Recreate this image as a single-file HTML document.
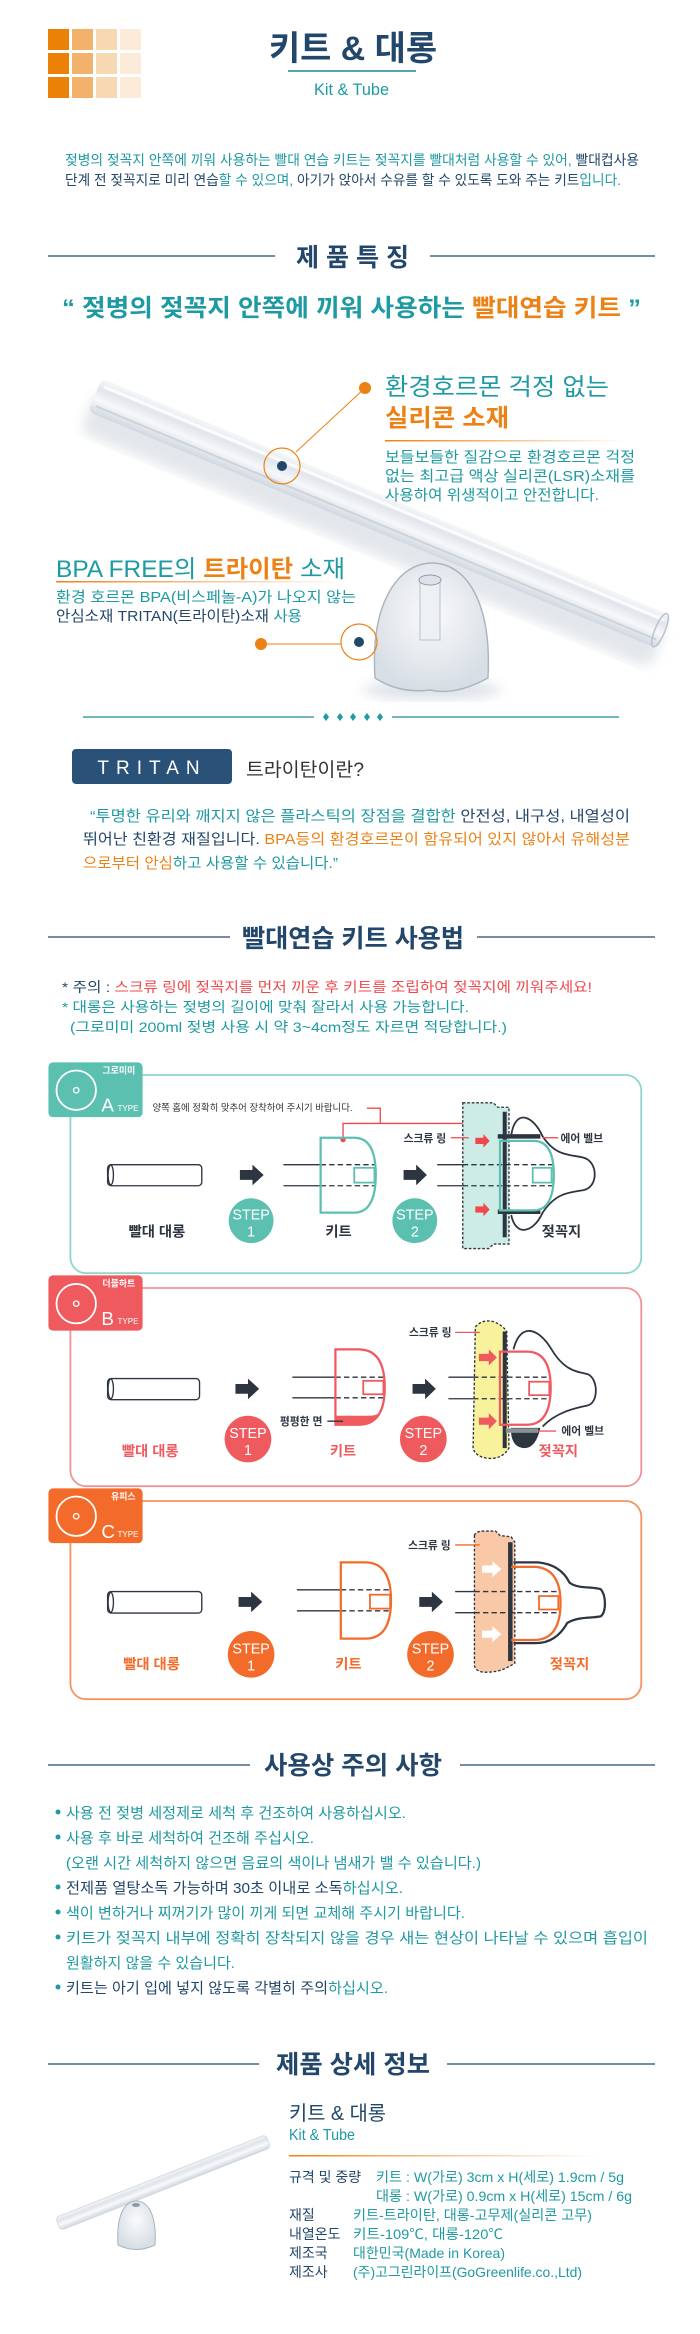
<!DOCTYPE html>
<html><head><meta charset="utf-8"><style>
html,body{margin:0;padding:0;background:#fff;}
svg{display:block;font-family:"Liberation Sans","Noto Sans CJK KR",sans-serif;}
</style></head><body>
<svg width="700" height="2334" viewBox="0 0 700 2334" xmlns="http://www.w3.org/2000/svg">
<defs>
<linearGradient id="og" x1="0" x2="1"><stop offset="0" stop-color="#ec8216"/><stop offset="1" stop-color="#ec8216" stop-opacity="0"/></linearGradient>
<linearGradient id="straw" x1="0" y1="0" x2="0" y2="1"><stop offset="0" stop-color="#f4f6f8"/><stop offset="0.3" stop-color="#dfe4ea"/><stop offset="0.6" stop-color="#f8f9fb"/><stop offset="1" stop-color="#cfd6de"/></linearGradient>
<radialGradient id="cup" cx="0.5" cy="0.4" r="0.6"><stop offset="0" stop-color="#fafbfc"/><stop offset="1" stop-color="#d6dde4"/></radialGradient>
<filter id="blur"><feGaussianBlur stdDeviation="6"/></filter>
</defs>

<!-- header grid -->
<g>
<rect x="48" y="29" width="21" height="21" fill="#ec8108"/><rect x="72" y="29" width="21" height="21" fill="#f2b26b"/><rect x="96" y="29" width="21" height="21" fill="#f8d8b3"/><rect x="120" y="29" width="21" height="21" fill="#fcebd9"/>
<rect x="48" y="53" width="21" height="21" fill="#ec8108"/><rect x="72" y="53" width="21" height="21" fill="#f2b26b"/><rect x="96" y="53" width="21" height="21" fill="#f8d8b3"/><rect x="120" y="53" width="21" height="21" fill="#fcebd9"/>
<rect x="48" y="77" width="21" height="21" fill="#ec8108"/><rect x="72" y="77" width="21" height="21" fill="#f2b26b"/><rect x="96" y="77" width="21" height="21" fill="#f8d8b3"/><rect x="120" y="77" width="21" height="21" fill="#fcebd9"/>
</g>
<text x="269" y="60" font-size="34" font-weight="bold" fill="#23476a" textLength="168" lengthAdjust="spacingAndGlyphs">키트 &amp; 대롱</text>
<line x1="288" y1="71" x2="416" y2="71" stroke="#1e8a9a" stroke-width="1.5"/>
<text x="314" y="95" font-size="17" fill="#1e9aa2" textLength="75" lengthAdjust="spacingAndGlyphs">Kit &amp; Tube</text>

<text x="65" y="165" font-size="14" textLength="574" lengthAdjust="spacingAndGlyphs"><tspan fill="#1e9aa2">젖병의 젖꼭지 안쪽에 끼워 사용하는 빨대 연습 키트는 젖꼭지를 빨대처럼 사용할 수 있어, </tspan><tspan fill="#23476a">빨대컵사용</tspan></text>
<text x="65" y="185" font-size="14" textLength="556" lengthAdjust="spacingAndGlyphs"><tspan fill="#23476a">단계 전 젖꼭지로 미리 연습</tspan><tspan fill="#1e9aa2">할 수 있으며, </tspan><tspan fill="#23476a">아기가 앉아서 수유를 할 수 있도록 도와 주는 키트</tspan><tspan fill="#1e9aa2">입니다.</tspan></text>

<line x1="48" y1="256" x2="275" y2="256" stroke="#23476a" stroke-width="1.2"/>
<line x1="430" y1="256" x2="655" y2="256" stroke="#23476a" stroke-width="1.2"/>
<text x="296" y="266" font-size="25" font-weight="bold" fill="#23476a" textLength="113" lengthAdjust="spacingAndGlyphs">제 품 특 징</text>
<text x="62" y="316" font-size="24" font-weight="bold" textLength="579" lengthAdjust="spacingAndGlyphs"><tspan fill="#1e9aa2">“ 젖병의 젖꼭지 안쪽에 끼워 사용하는 </tspan><tspan fill="#ec8216">빨대연습 키트</tspan><tspan fill="#1e9aa2"> ”</tspan></text>

<!-- straw -->
<g transform="translate(95,395) rotate(22.6)">
<rect x="0" y="-4" width="617" height="44" rx="10" fill="#c8d0d8" opacity="0.5" filter="url(#blur)"/>
<rect x="0" y="-18" width="617" height="36" rx="6" fill="url(#straw)" opacity="0.9"/>
<line x1="5" y1="-11" x2="612" y2="-11" stroke="#ffffff" stroke-width="3" opacity="0.8"/>
<line x1="5" y1="10" x2="612" y2="10" stroke="#c2cbd4" stroke-width="2" opacity="0.7"/>
<ellipse cx="612" cy="0" rx="5" ry="18" fill="none" stroke="#b9c3cd" stroke-width="1.5"/>
</g>

<circle cx="365" cy="388" r="6" fill="#ec8216"/>
<line x1="365" y1="388" x2="296" y2="452" stroke="#ec8216" stroke-width="1"/>
<circle cx="282" cy="466" r="18" fill="none" stroke="#ec8216" stroke-width="1.2"/>
<circle cx="282" cy="466" r="5" fill="#23476a"/>
<text x="385" y="395" font-size="24" fill="#1e9aa2" textLength="224" lengthAdjust="spacingAndGlyphs">환경호르몬 걱정 없는</text>
<text x="385" y="426" font-size="24" font-weight="bold" fill="#ec8216" textLength="124" lengthAdjust="spacingAndGlyphs">실리콘 소재</text>
<rect x="385" y="440" width="243" height="1.5" fill="url(#og)"/>
<text x="385" y="462" font-size="15" fill="#1e9aa2" textLength="250" lengthAdjust="spacingAndGlyphs">보들보들한 질감으로  환경호르몬 걱정</text>
<text x="385" y="481" font-size="15" fill="#1e9aa2" textLength="250" lengthAdjust="spacingAndGlyphs">없는 최고급 액상 실리콘(LSR)소재를</text>
<text x="385" y="500" font-size="15" fill="#1e9aa2" textLength="214" lengthAdjust="spacingAndGlyphs">사용하여 위생적이고 안전합니다.</text>

<!-- cup -->
<ellipse cx="432" cy="690" rx="70" ry="10" fill="#c8d0d8" opacity="0.6" filter="url(#blur)"/>
<path d="M375,678 C370,600 400,563 432,563 C465,563 492,600 488,678 Q455,696 430,690 Q400,694 375,678 Z" fill="url(#cup)" stroke="#a9b3bd" stroke-width="1.5" opacity="0.95"/>
<path d="M420,580 L420,640 L440,640 L440,580 Z" fill="#eef1f4" stroke="#b8c1ca"/>
<ellipse cx="430" cy="580" rx="11" ry="5" fill="#dde3e9" stroke="#8e99a4"/>
<text x="56" y="577" font-size="24" textLength="289" lengthAdjust="spacingAndGlyphs"><tspan fill="#1e9aa2">BPA FREE의 </tspan><tspan fill="#ec8216" font-weight="bold">트라이탄</tspan><tspan fill="#1e9aa2"> 소재</tspan></text>
<rect x="56" y="581" width="289" height="1.5" fill="url(#og)"/>
<text x="56" y="602" font-size="15" fill="#1e9aa2" textLength="300" lengthAdjust="spacingAndGlyphs">환경 호르몬 BPA(비스페놀-A)가 나오지 않는</text>
<text x="56" y="621" font-size="15" textLength="246" lengthAdjust="spacingAndGlyphs"><tspan fill="#23476a">안심소재 TRITAN(트라이탄)소재</tspan><tspan fill="#1e9aa2"> 사용</tspan></text>
<circle cx="261" cy="644" r="6" fill="#ec8216"/>
<line x1="261" y1="644" x2="341" y2="644" stroke="#ec8216" stroke-width="1"/>
<circle cx="359" cy="642" r="18" fill="none" stroke="#ec8216" stroke-width="1.2"/>
<circle cx="359" cy="642" r="5" fill="#23476a"/>

<!-- divider -->
<line x1="83" y1="717" x2="314" y2="717" stroke="#1e8a9a" stroke-width="1.2"/>
<line x1="392" y1="717" x2="619" y2="717" stroke="#1e8a9a" stroke-width="1.2"/>
<g fill="#1e9aa2">
<path d="M326,713 l3,4 l-3,4 l-3,-4z"/><path d="M340,713 l3,4 l-3,4 l-3,-4z"/><path d="M353,713 l3,4 l-3,4 l-3,-4z"/><path d="M367,713 l3,4 l-3,4 l-3,-4z"/><path d="M380,713 l3,4 l-3,4 l-3,-4z"/>
</g>
<rect x="72" y="749" width="160" height="35" rx="4" fill="#2a5279"/>
<text x="152" y="774" font-size="19" fill="#fff" text-anchor="middle" letter-spacing="7">TRITAN</text>
<text x="246" y="776" font-size="19" fill="#333" textLength="118" lengthAdjust="spacingAndGlyphs">트라이탄이란?</text>
<text x="90" y="821" font-size="15" textLength="540" lengthAdjust="spacingAndGlyphs"><tspan fill="#1e9aa2">“투명한 유리와 깨지지 않은 플라스틱의 장점을 결합한 </tspan><tspan fill="#23476a">안전성, 내구성, 내열성이</tspan></text>
<text x="83" y="844" font-size="15" textLength="547" lengthAdjust="spacingAndGlyphs"><tspan fill="#23476a">뛰어난 친환경 재질입니다. </tspan><tspan fill="#ec8216">BPA등의 환경호르몬이 함유되어 있지 않아서 유해성분</tspan></text>
<text x="83" y="868" font-size="15" textLength="255" lengthAdjust="spacingAndGlyphs"><tspan fill="#ec8216">으로부터 안심</tspan><tspan fill="#1e9aa2">하고 사용할 수 있습니다.”</tspan></text>

<line x1="48" y1="937" x2="230" y2="937" stroke="#23476a" stroke-width="1.2"/>
<line x1="477" y1="937" x2="655" y2="937" stroke="#23476a" stroke-width="1.2"/>
<text x="242" y="947" font-size="25" font-weight="bold" fill="#23476a" textLength="222" lengthAdjust="spacingAndGlyphs">빨대연습 키트 사용법</text>
<text x="62" y="992" font-size="14" textLength="530" lengthAdjust="spacingAndGlyphs"><tspan fill="#23476a">* 주의 : </tspan><tspan fill="#ee4a4e">스크류 링에 젖꼭지를 먼저 끼운 후 키트를 조립하여 젖꼭지에 끼워주세요!</tspan></text>
<text x="62" y="1012" font-size="14" fill="#1e9aa2" textLength="407" lengthAdjust="spacingAndGlyphs">* 대롱은 사용하는 젖병의 길이에 맞춰 잘라서 사용 가능합니다.</text>
<text x="70" y="1032" font-size="14" fill="#1e9aa2" textLength="437" lengthAdjust="spacingAndGlyphs">(그로미미 200ml 젖병 사용 시 약 3~4cm정도 자르면 적당합니다.)</text>

<!-- diagrams -->
<svg x="0" y="1040" width="700" height="700" viewBox="0 0 1561 1561">
<g font-family="Liberation Sans, Noto Sans CJK KR, sans-serif">
<!-- A -->
<rect x="157" y="78" width="1273" height="442" rx="35" fill="none" stroke="#8ed6cb" stroke-width="4"/>
<rect x="108" y="50" width="210" height="122" rx="10" fill="#5cc0b1"/>
<circle cx="170" cy="112" r="44" fill="none" stroke="#fff" stroke-width="4"/><circle cx="170" cy="112" r="6" fill="none" stroke="#fff" stroke-width="3"/>
<text x="265" y="75" font-size="20" fill="#fff" text-anchor="middle" font-weight="bold">그로미미</text>
<text x="226" y="160" font-size="42" fill="#fff">A</text><text x="262" y="158" font-size="18" fill="#fff">TYPE</text>
<text x="340" y="158" font-size="21" fill="#333">양쪽 홈에 정확히 맞추어 장착하여 주시기 바랍니다.</text>
<path d="M818,152 L848,152 L848,186 L1110,186 L1110,212 M848,186 L765,186 L765,222" fill="none" stroke="#ee4a4e" stroke-width="3"/>
<circle cx="765" cy="222" r="6" fill="#ee4a4e"/><circle cx="1110" cy="212" r="6" fill="#ee4a4e"/>
<rect x="240" y="278" width="210" height="47" rx="8" fill="none" stroke="#2d3540" stroke-width="3"/>
<ellipse cx="247" cy="301" rx="6" ry="22" fill="none" stroke="#2d3540" stroke-width="3"/>
<path d="M535,290 L563,290 L563,278 L588,301 L563,324 L563,312 L535,312Z" fill="#2d3540"/>
<circle cx="560" cy="403" r="50" fill="#5cc0b1"/><text x="560" y="400" font-size="32" fill="#fff" text-anchor="middle">STEP</text><text x="560" y="438" font-size="32" fill="#fff" text-anchor="middle">1</text>
<path d="M632,278 L715,278 M632,325 L715,325" stroke="#2d3540" stroke-width="3"/>
<path d="M715,278 L838,278 M715,325 L838,325" stroke="#2d3540" stroke-width="3" stroke-dasharray="12,7"/>
<path d="M715,218 L790,218 Q838,218 838,300 Q838,385 790,385 L715,385 Z" fill="none" stroke="#5cc0b1" stroke-width="5"/>
<rect x="790" y="285" width="45" height="33" fill="none" stroke="#5cc0b1" stroke-width="4"/>
<text x="350" y="438" font-size="32" font-weight="bold" fill="#2d3540" text-anchor="middle">빨대 대롱</text>
<text x="755" y="438" font-size="32" font-weight="bold" fill="#2d3540" text-anchor="middle">키트</text>
<path d="M900,290 L928,290 L928,278 L952,301 L928,324 L928,312 L900,312Z" fill="#2d3540"/>
<circle cx="925" cy="403" r="50" fill="#5cc0b1"/><text x="925" y="400" font-size="32" fill="#fff" text-anchor="middle">STEP</text><text x="925" y="438" font-size="32" fill="#fff" text-anchor="middle">2</text>
<path d="M1032,140 L1100,140 L1110,150 L1135,150 L1135,455 L1100,455 L1090,465 L1032,465 Z" fill="#cdece6" stroke="#2d3540" stroke-width="3" stroke-dasharray="6,4"/>
<path d="M975,278 L1032,278 M975,325 L1032,325" stroke="#2d3540" stroke-width="3"/>
<path d="M1032,278 L1235,278 M1032,325 L1235,325" stroke="#2d3540" stroke-width="3" stroke-dasharray="12,7"/>
<rect x="1121" y="160" width="9" height="280" fill="#2d3540"/>
<rect x="1110" y="210" width="95" height="10" fill="#2d3540"/><rect x="1110" y="378" width="95" height="10" fill="#2d3540"/>
<path d="M1140,212 C1150,150 1190,170 1210,215 C1240,260 1270,255 1300,262 C1335,270 1335,330 1300,335 C1270,340 1240,340 1210,385 C1190,430 1150,440 1140,390" fill="none" stroke="#2d3540" stroke-width="4"/>
<path d="M1115,225 L1190,225 Q1235,225 1235,300 Q1235,380 1190,380 L1115,380 Z" fill="none" stroke="#5cc0b1" stroke-width="5"/>
<rect x="1188" y="285" width="42" height="33" fill="none" stroke="#5cc0b1" stroke-width="4"/>
<path d="M1060,218 L1078,218 L1078,210 L1092,225 L1078,240 L1078,232 L1060,232Z" fill="#ee4a4e"/>
<path d="M1060,371 L1078,371 L1078,363 L1092,378 L1078,393 L1078,385 L1060,385Z" fill="#ee4a4e"/>
<text x="900" y="227" font-size="24" font-weight="bold" fill="#2d3540">스크류 링</text><line x1="1005" y1="218" x2="1045" y2="218" stroke="#ee4a4e" stroke-width="3"/>
<line x1="1210" y1="218" x2="1245" y2="218" stroke="#ee4a4e" stroke-width="3"/><text x="1250" y="227" font-size="24" font-weight="bold" fill="#2d3540">에어 벨브</text>
<text x="1252" y="438" font-size="32" font-weight="bold" fill="#2d3540" text-anchor="middle">젖꼭지</text>

<!-- B -->
<rect x="157" y="553" width="1273" height="442" rx="35" fill="none" stroke="#f29396" stroke-width="4"/>
<rect x="108" y="525" width="210" height="123" rx="10" fill="#ef5a5f"/>
<circle cx="170" cy="588" r="44" fill="none" stroke="#fff" stroke-width="4"/><circle cx="170" cy="588" r="6" fill="none" stroke="#fff" stroke-width="3"/>
<text x="265" y="550" font-size="20" fill="#fff" text-anchor="middle" font-weight="bold">더블하트</text>
<text x="226" y="635" font-size="42" fill="#fff">B</text><text x="262" y="633" font-size="18" fill="#fff">TYPE</text>
<rect x="240" y="755" width="205" height="47" rx="8" fill="none" stroke="#2d3540" stroke-width="3"/>
<ellipse cx="247" cy="778" rx="6" ry="22" fill="none" stroke="#2d3540" stroke-width="3"/>
<path d="M525,767 L553,767 L553,755 L578,778 L553,801 L553,789 L525,789Z" fill="#2d3540"/>
<circle cx="553" cy="890" r="52" fill="#ef5a5f"/><text x="553" y="888" font-size="32" fill="#fff" text-anchor="middle">STEP</text><text x="553" y="926" font-size="32" fill="#fff" text-anchor="middle">1</text>
<path d="M652,752 L748,752 M652,798 L748,798" stroke="#2d3540" stroke-width="3"/>
<path d="M748,752 L858,752 M748,798 L858,798" stroke="#2d3540" stroke-width="3" stroke-dasharray="12,7"/>
<path d="M748,838 L820,838 Q840,838 848,830 Q835,858 800,858 L748,858Z" fill="#ef5a5f"/>
<path d="M748,690 L800,690 Q858,690 858,775 Q858,858 800,858 L748,858 Z" fill="none" stroke="#ef5a5f" stroke-width="5"/>
<rect x="810" y="760" width="45" height="30" fill="none" stroke="#ef5a5f" stroke-width="4"/>
<text x="624" y="858" font-size="24" font-weight="bold" fill="#2d3540">평평한 면</text><line x1="730" y1="850" x2="765" y2="850" stroke="#2d3540" stroke-width="3"/>
<text x="335" y="928" font-size="32" font-weight="bold" fill="#ef5a5f" text-anchor="middle">빨대 대롱</text>
<text x="765" y="928" font-size="32" font-weight="bold" fill="#ef5a5f" text-anchor="middle">키트</text>
<path d="M920,767 L948,767 L948,755 L972,778 L948,801 L948,789 L920,789Z" fill="#2d3540"/>
<circle cx="944" cy="890" r="52" fill="#ef5a5f"/><text x="944" y="888" font-size="32" fill="#fff" text-anchor="middle">STEP</text><text x="944" y="926" font-size="32" fill="#fff" text-anchor="middle">2</text>
<path d="M1060,640 Q1075,622 1100,628 Q1120,635 1130,650 L1135,910 Q1120,935 1090,933 Q1060,930 1055,910 Z" fill="#f8f29c" stroke="#2d3540" stroke-width="3" stroke-dasharray="6,4"/>
<path d="M1000,752 L1055,752 M1000,800 L1055,800" stroke="#2d3540" stroke-width="3"/>
<path d="M1055,752 L1228,752 M1055,800 L1228,800" stroke="#2d3540" stroke-width="3" stroke-dasharray="12,7"/>
<rect x="1121" y="650" width="9" height="260" fill="#2d3540"/>
<path d="M1145,690 C1160,630 1200,640 1230,690 C1260,740 1290,740 1310,745 C1335,755 1335,810 1310,815 C1285,820 1240,830 1210,862" fill="none" stroke="#2d3540" stroke-width="4"/>
<path d="M1140,865 L1205,865 Q1195,910 1170,910 Q1145,910 1140,880Z" fill="#2d3540"/>
<rect x="1128" y="866" width="72" height="10" fill="#8a9096"/>
<path d="M1115,695 L1175,695 Q1228,695 1228,775 Q1228,858 1175,858 L1115,858 Z" fill="none" stroke="#ef5a5f" stroke-width="5"/>
<rect x="1180" y="762" width="45" height="30" fill="none" stroke="#ef5a5f" stroke-width="4"/>
<path d="M1068,700 L1090,700 L1090,690 L1108,708 L1090,726 L1090,716 L1068,716Z" fill="#ef5a5f"/>
<path d="M1068,842 L1090,842 L1090,832 L1108,850 L1090,868 L1090,858 L1068,858Z" fill="#ef5a5f"/>
<text x="912" y="660" font-size="24" font-weight="bold" fill="#2d3540">스크류 링</text><line x1="1015" y1="652" x2="1070" y2="652" stroke="#ef5a5f" stroke-width="3"/>
<line x1="1200" y1="872" x2="1240" y2="872" stroke="#ef5a5f" stroke-width="3"/><text x="1252" y="880" font-size="24" font-weight="bold" fill="#2d3540">에어 벨브</text>
<text x="1245" y="928" font-size="32" font-weight="bold" fill="#ef5a5f" text-anchor="middle">젖꼭지</text>

<!-- C -->
<rect x="157" y="1028" width="1273" height="442" rx="35" fill="none" stroke="#f5935e" stroke-width="4"/>
<rect x="108" y="1000" width="210" height="122" rx="10" fill="#f26b2a"/>
<circle cx="170" cy="1062" r="44" fill="none" stroke="#fff" stroke-width="4"/><circle cx="170" cy="1062" r="6" fill="none" stroke="#fff" stroke-width="3"/>
<text x="275" y="1025" font-size="20" fill="#fff" text-anchor="middle" font-weight="bold">유피스</text>
<text x="226" y="1110" font-size="42" fill="#fff">C</text><text x="262" y="1108" font-size="18" fill="#fff">TYPE</text>
<rect x="240" y="1230" width="210" height="48" rx="8" fill="none" stroke="#2d3540" stroke-width="3"/>
<ellipse cx="247" cy="1254" rx="6" ry="22" fill="none" stroke="#2d3540" stroke-width="3"/>
<path d="M532,1242 L560,1242 L560,1230 L585,1253 L560,1276 L560,1264 L532,1264Z" fill="#2d3540"/>
<circle cx="560" cy="1370" r="52" fill="#f26b2a"/><text x="560" y="1368" font-size="32" fill="#fff" text-anchor="middle">STEP</text><text x="560" y="1406" font-size="32" fill="#fff" text-anchor="middle">1</text>
<path d="M662,1226 L760,1226 M662,1273 L760,1273" stroke="#2d3540" stroke-width="3"/>
<path d="M760,1226 L870,1226 M760,1273 L870,1273" stroke="#2d3540" stroke-width="3" stroke-dasharray="12,7"/>
<path d="M760,1165 L815,1165 Q872,1165 872,1250 Q872,1335 815,1335 L760,1335 Z" fill="none" stroke="#f26b2a" stroke-width="5"/>
<rect x="825" y="1237" width="45" height="31" fill="none" stroke="#f26b2a" stroke-width="4"/>
<text x="338" y="1403" font-size="32" font-weight="bold" fill="#f26b2a" text-anchor="middle">빨대 대롱</text>
<text x="777" y="1403" font-size="32" font-weight="bold" fill="#f26b2a" text-anchor="middle">키트</text>
<path d="M935,1242 L963,1242 L963,1230 L988,1253 L963,1276 L963,1264 L935,1264Z" fill="#2d3540"/>
<circle cx="960" cy="1370" r="52" fill="#f26b2a"/><text x="960" y="1368" font-size="32" fill="#fff" text-anchor="middle">STEP</text><text x="960" y="1406" font-size="32" fill="#fff" text-anchor="middle">2</text>
<path d="M1058,1105 Q1060,1095 1080,1095 L1105,1095 L1115,1105 L1140,1108 L1148,1120 L1148,1390 L1130,1400 Q1110,1410 1080,1410 Q1060,1408 1058,1395 Z" fill="#f9c9a7" stroke="#2d3540" stroke-width="3" stroke-dasharray="6,4"/>
<path d="M1015,1230 L1058,1230 M1015,1277 L1058,1277" stroke="#2d3540" stroke-width="3"/>
<path d="M1058,1230 L1245,1230 M1058,1277 L1245,1277" stroke="#2d3540" stroke-width="3" stroke-dasharray="12,7"/>
<rect x="1133" y="1120" width="10" height="265" fill="#2d3540"/>
<path d="M1145,1165 L1200,1165 Q1250,1170 1270,1210 C1290,1225 1320,1218 1340,1225 C1352,1240 1352,1275 1340,1285 C1320,1290 1290,1285 1265,1300 Q1240,1345 1195,1345 L1145,1345" fill="none" stroke="#2d3540" stroke-width="5"/>
<path d="M1140,1175 L1195,1175 Q1250,1180 1250,1255 Q1250,1335 1195,1338 L1140,1338" fill="none" stroke="#f26b2a" stroke-width="5"/>
<rect x="1202" y="1240" width="43" height="30" fill="none" stroke="#f26b2a" stroke-width="4"/>
<path d="M1075,1172 L1098,1172 L1098,1162 L1118,1180 L1098,1198 L1098,1188 L1075,1188Z" fill="#fff"/>
<path d="M1075,1317 L1098,1317 L1098,1307 L1118,1325 L1098,1343 L1098,1333 L1075,1333Z" fill="#fff"/>
<text x="910" y="1135" font-size="24" font-weight="bold" fill="#2d3540">스크류 링</text><line x1="1015" y1="1126" x2="1070" y2="1126" stroke="#f26b2a" stroke-width="3"/>
<text x="1270" y="1403" font-size="32" font-weight="bold" fill="#f26b2a" text-anchor="middle">젖꼭지</text>
</g>
</svg>

<!-- cautions -->
<line x1="48" y1="1765" x2="250" y2="1765" stroke="#23476a" stroke-width="1.2"/>
<line x1="460" y1="1765" x2="655" y2="1765" stroke="#23476a" stroke-width="1.2"/>
<text x="264" y="1774" font-size="25" font-weight="bold" fill="#23476a" textLength="178" lengthAdjust="spacingAndGlyphs">사용상 주의 사항</text>
<g font-size="15">
<circle cx="58" cy="1812" r="2.5" fill="#1e9aa2"/><text x="66" y="1818" fill="#1e9aa2" textLength="340" lengthAdjust="spacingAndGlyphs">사용 전 젖병 세정제로 세척 후 건조하여 사용하십시오.</text>
<circle cx="58" cy="1837" r="2.5" fill="#1e9aa2"/><text x="66" y="1843" fill="#1e9aa2" textLength="248" lengthAdjust="spacingAndGlyphs">사용 후 바로 세척하여 건조해 주십시오.</text>
<text x="66" y="1868" fill="#1e9aa2" textLength="415" lengthAdjust="spacingAndGlyphs">(오랜 시간 세척하지 않으면 음료의 색이나 냄새가 밸 수 있습니다.)</text>
<circle cx="58" cy="1887" r="2.5" fill="#1e9aa2"/><text x="66" y="1893" textLength="337" lengthAdjust="spacingAndGlyphs"><tspan fill="#23476a">전제품 열탕소독 가능하며 30초 이내로 소독</tspan><tspan fill="#1e9aa2">하십시오.</tspan></text>
<circle cx="58" cy="1912" r="2.5" fill="#1e9aa2"/><text x="66" y="1918" fill="#1e9aa2" textLength="399" lengthAdjust="spacingAndGlyphs">색이 변하거나 찌꺼기가 많이 끼게 되면 교체해 주시기 바랍니다.</text>
<circle cx="58" cy="1937" r="2.5" fill="#1e9aa2"/><text x="66" y="1943" fill="#1e9aa2" textLength="582" lengthAdjust="spacingAndGlyphs">키트가 젖꼭지 내부에 정확히 장착되지 않을 경우 새는 현상이 나타날 수 있으며 흡입이</text>
<text x="66" y="1968" fill="#1e9aa2" textLength="169" lengthAdjust="spacingAndGlyphs">원활하지 않을 수 있습니다.</text>
<circle cx="58" cy="1987" r="2.5" fill="#1e9aa2"/><text x="66" y="1993" textLength="322" lengthAdjust="spacingAndGlyphs"><tspan fill="#23476a">키트는 아기 입에 넣지 않도록 각별히 주의</tspan><tspan fill="#1e9aa2">하십시오.</tspan></text>
</g>

<!-- details -->
<line x1="48" y1="2064" x2="259" y2="2064" stroke="#23476a" stroke-width="1.2"/>
<line x1="447" y1="2064" x2="655" y2="2064" stroke="#23476a" stroke-width="1.2"/>
<text x="276" y="2073" font-size="25" font-weight="bold" fill="#23476a" textLength="154" lengthAdjust="spacingAndGlyphs">제품 상세 정보</text>
<g transform="translate(58,2224) rotate(-21.5)">
<rect x="0" y="-7" width="226" height="14" rx="4" fill="url(#straw)" stroke="#d0d7de" stroke-width="0.8"/>
</g>
<path d="M118,2245 C116,2215 125,2201 136,2201 C148,2201 157,2215 155,2245 Q136,2254 118,2245Z" fill="url(#cup)" stroke="#a9b3bd"/>
<ellipse cx="136" cy="2205" rx="4" ry="2" fill="#8e99a4"/>
<text x="289" y="2120" font-size="20" fill="#23476a" textLength="97" lengthAdjust="spacingAndGlyphs">키트 &amp; 대롱</text>
<text x="289" y="2140" font-size="16" fill="#1e9aa2" textLength="66" lengthAdjust="spacingAndGlyphs">Kit &amp; Tube</text>
<rect x="289" y="2155" width="311" height="1.5" fill="url(#og)"/>
<g font-size="14">
<text x="289" y="2182" fill="#23476a">규격 및 중량</text><text x="376" y="2182" fill="#1e9aa2" textLength="248" lengthAdjust="spacingAndGlyphs">키트 : W(가로) 3cm x H(세로) 1.9cm / 5g</text>
<text x="376" y="2201" fill="#1e9aa2" textLength="256" lengthAdjust="spacingAndGlyphs">대롱 : W(가로) 0.9cm x H(세로) 15cm / 6g</text>
<text x="289" y="2220" fill="#23476a">재질</text><text x="353" y="2220" fill="#1e9aa2" textLength="239" lengthAdjust="spacingAndGlyphs">키트-트라이탄, 대롱-고무제(실리콘 고무)</text>
<text x="289" y="2239" fill="#23476a">내열온도</text><text x="353" y="2239" fill="#1e9aa2" textLength="150" lengthAdjust="spacingAndGlyphs">키트-109℃, 대롱-120℃</text>
<text x="289" y="2258" fill="#23476a">제조국</text><text x="353" y="2258" fill="#1e9aa2" textLength="152" lengthAdjust="spacingAndGlyphs">대한민국(Made in Korea)</text>
<text x="289" y="2277" fill="#23476a">제조사</text><text x="353" y="2277" fill="#1e9aa2" textLength="229" lengthAdjust="spacingAndGlyphs">(주)고그린라이프(GoGreenlife.co.,Ltd)</text>
</g>
</svg>
</body></html>
